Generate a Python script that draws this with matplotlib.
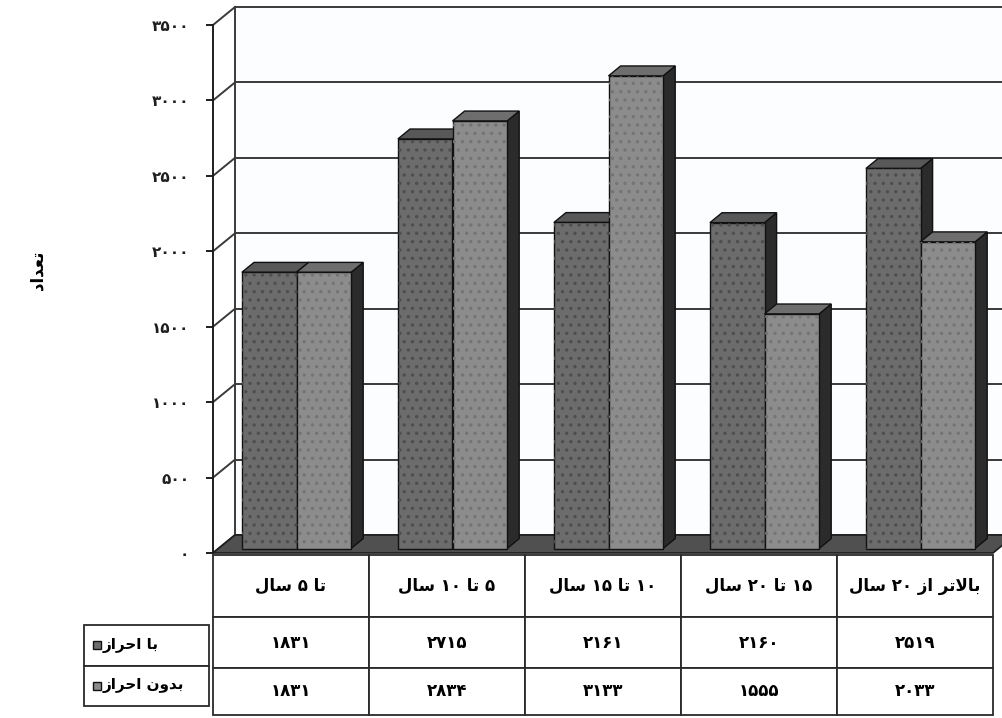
import re
import matplotlib
matplotlib.use("Agg")
import matplotlib.pyplot as plt
from matplotlib.patches import Polygon, Rectangle

# ---- data ----
categories = ["تا ۵ سال", "۵ تا ۱۰ سال", "۱۰ تا ۱۵ سال", "۱۵ تا ۲۰ سال", "بالاتر از ۲۰ سال"]
series_names = ["با احراز", "بدون احراز"]
with_cert = [1831, 2715, 2161, 2160, 2519]
without_cert = [1831, 2834, 3133, 1555, 2033]
y_ticks = [0, 500, 1000, 1500, 2000, 2500, 3000, 3500]
y_label = "تعداد"

plt.rcParams["font.family"] = ["DejaVu Sans"]
plt.rcParams["font.weight"] = "bold"
plt.rcParams["hatch.linewidth"] = 1.2

# ---- minimal Persian shaping (matplotlib has no complex text layout) ----
FORMS = {
    "ا": ("\uFE8D", "\uFE8E", None, None),
    "ب": ("\uFE8F", "\uFE90", "\uFE91", "\uFE92"),
    "ت": ("\uFE95", "\uFE96", "\uFE97", "\uFE98"),
    "ح": ("\uFEA1", "\uFEA2", "\uFEA3", "\uFEA4"),
    "د": ("\uFEA9", "\uFEAA", None, None),
    "ر": ("\uFEAD", "\uFEAE", None, None),
    "ز": ("\uFEAF", "\uFEB0", None, None),
    "س": ("\uFEB1", "\uFEB2", "\uFEB3", "\uFEB4"),
    "ع": ("\uFEC9", "\uFECA", "\uFECB", "\uFECC"),
    "ل": ("\uFEDD", "\uFEDE", "\uFEDF", "\uFEE0"),
    "ن": ("\uFEE5", "\uFEE6", "\uFEE7", "\uFEE8"),
    "و": ("\uFEED", "\uFEEE", None, None),
}


def fa(text):
    out = []
    k = 0
    while k < len(text):
        c = text[k]
        prev = text[k - 1] if k > 0 else ""
        nxt = text[k + 1] if k + 1 < len(text) else ""
        joins_prev = prev in FORMS and FORMS[prev][2] is not None
        if c not in FORMS:
            out.append(c)
            k += 1
            continue
        if c == "ل" and nxt == "ا":
            out.append("\uFEFC" if joins_prev else "\uFEFB")
            k += 2
            continue
        iso, fin, ini, med = FORMS[c]
        joins_next = ini is not None and nxt in FORMS
        if joins_prev and joins_next:
            out.append(med)
        elif joins_prev:
            out.append(fin)
        elif joins_next:
            out.append(ini)
        else:
            out.append(iso)
        k += 1
    tokens = re.findall(r"[۰-۹0-9]+|.", "".join(out))
    return "".join(reversed(tokens))


def fa_num(n):
    return str(n).translate(str.maketrans("0123456789", "۰۱۲۳۴۵۶۷۸۹"))


# ---- layout (pixels of a 1003x718 figure) ----
W, H = 1003, 718
fig = plt.figure(figsize=(W / 100, H / 100), dpi=100)
fig.patch.set_facecolor("white")

front_l, front_r, front_b, front_t = 213, 993, 553, 25
ax = fig.add_axes([front_l / W, 1 - front_b / H, (front_r - front_l) / W, (front_b - front_t) / H])
ymax = y_ticks[-1]
ax.set_xlim(0, len(categories))
ax.set_ylim(0, ymax)
ax.set_facecolor("none")

# depth vector (22 px right, 18 px up) in data units
px_x = (front_r - front_l) / len(categories)
px_y = (front_b - front_t) / ymax
DX, DY = 22 / px_x, 18 / px_y

line_kw = dict(color="#3a3a3a", lw=1.4, clip_on=False, zorder=1)
# back wall
ax.add_patch(Rectangle((DX, DY), len(categories) + 0.2, ymax, facecolor="#fcfdff",
                       edgecolor="none", clip_on=False, zorder=0))
for v in y_ticks:
    ax.plot([DX, len(categories) + DX + 0.2], [v + DY, v + DY], **line_kw)
    ax.plot([0, DX], [v, v + DY], **line_kw)
ax.plot([DX, DX], [DY, ymax + DY], **line_kw)

# floor
floor = Polygon([(0, 0), (len(categories), 0), (len(categories) + DX, DY), (DX, DY)],
                closed=True, facecolor="#505050", edgecolor="#1e1e1e", lw=1.2,
                clip_on=False, zorder=2)
ax.add_patch(floor)

# bars
bar_w = 0.35
f1, f2 = 0.25, 0.8
front_col = ["#6c6c6c", "#8c8c8c"]
speckle = ["#4e4e4e", "#747474"]
top_col = ["#585858", "#6e6e6e"]
side_col = "#2b2b2b"
for i in range(len(categories)):
    for j, vals in enumerate([with_cert, without_cert]):
        v = vals[i]
        x0 = i + (1 - 2 * bar_w) / 2 + j * bar_w + f1 * DX
        x1 = x0 + bar_w
        y0 = f1 * DY
        y1 = v + f1 * DY
        ddx, ddy = (f2 - f1) * DX, (f2 - f1) * DY
        side = Polygon([(x1, y0), (x1 + ddx, y0 + ddy), (x1 + ddx, y1 + ddy), (x1, y1)],
                       closed=True, facecolor=side_col, edgecolor="#111111", lw=1.0,
                       clip_on=False, zorder=3)
        top = Polygon([(x0, y1), (x1, y1), (x1 + ddx, y1 + ddy), (x0 + ddx, y1 + ddy)],
                      closed=True, facecolor=top_col[j], edgecolor="#111111", lw=1.0,
                      clip_on=False, zorder=3)
        front = Rectangle((x0, y0), bar_w, v, facecolor=front_col[j], edgecolor="#111111",
                          lw=1.0, clip_on=False, zorder=3)
        texture = Rectangle((x0, y0), bar_w, v, facecolor="none", edgecolor=speckle[j],
                            hatch="..", lw=0, clip_on=False, zorder=3)
        for p in (side, top, front, texture):
            ax.add_patch(p)

# axes cosmetics
for s in ["top", "right", "bottom"]:
    ax.spines[s].set_visible(False)
ax.spines["left"].set_color("#1e1e1e")
ax.spines["left"].set_linewidth(1.4)
ax.set_xticks([])
ax.set_yticks(y_ticks)
ax.set_yticklabels([fa_num(v) for v in y_ticks], fontsize=11, fontweight="bold")
ax.tick_params(axis="y", length=5, width=1.4, pad=12, colors="#1e1e1e")

fig.text(37 / W, 1 - 270 / H, fa(y_label), rotation=90, ha="center", va="center",
         fontsize=12, fontweight="bold")

# ---- data table ----
tab_l, tab_r, tab_t, tab_b = 213, 993, 555, 715
tax = fig.add_axes([tab_l / W, 1 - tab_b / H, (tab_r - tab_l) / W, (tab_b - tab_t) / H])
tax.axis("off")
cell_text = [[fa(c) for c in categories],
             [fa_num(v) for v in with_cert],
             [fa_num(v) for v in without_cert]]
tbl = tax.table(cellText=cell_text, cellLoc="center", bbox=[0, 0, 1, 1])
tbl.auto_set_font_size(False)
row_h = [62, 51, 47]
for (r, c), cell in tbl.get_celld().items():
    cell.set_height(row_h[r] / sum(row_h))
    cell.set_edgecolor("#2a2a2a")
    cell.set_linewidth(1.3)
    cell.get_text().set_fontsize(12)
    cell.get_text().set_fontweight("bold")

# row labels with legend keys
lab_l, lab_r, lab_t, lab_b = 84, 209, 625, 706
lax = fig.add_axes([lab_l / W, 1 - lab_b / H, (lab_r - lab_l) / W, (lab_b - lab_t) / H])
lax.axis("off")
ltbl = lax.table(cellText=[[fa(n)] for n in series_names], cellLoc="left", bbox=[0, 0, 1, 1])
ltbl.auto_set_font_size(False)
for (r, c), cell in ltbl.get_celld().items():
    cell.set_edgecolor("#2a2a2a")
    cell.set_linewidth(1.3)
    cell.PAD = 0.15
    cell.get_text().set_fontsize(11)
    cell.get_text().set_fontweight("bold")
key_w, key_h = 8 / (lab_r - lab_l), 8 / (lab_b - lab_t)
for j in range(len(series_names)):
    yc = 1 - (j + 0.5) / len(series_names)
    lax.add_patch(Rectangle((0.07, yc - key_h / 2), key_w, key_h, transform=lax.transAxes,
                            facecolor=front_col[j], edgecolor="#111111", lw=1.0))

fig.savefig("out.png", dpi=100)
